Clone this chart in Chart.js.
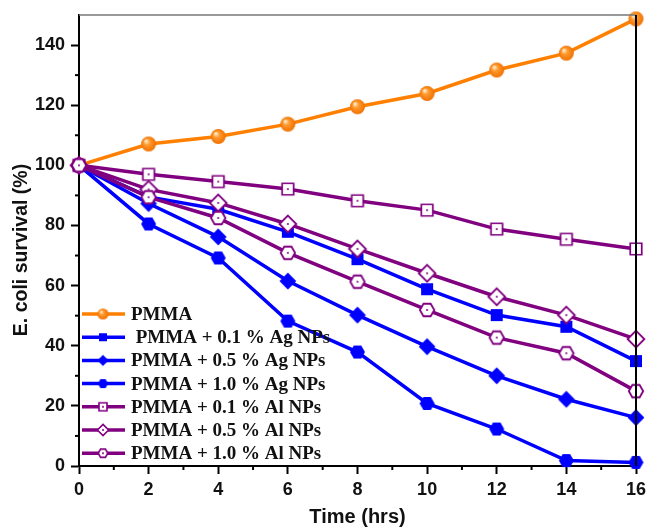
<!DOCTYPE html>
<html><head>
<meta charset="utf-8">
<script src="https://cdn.jsdelivr.net/npm/chart.js@4.4.1/dist/chart.umd.min.js"></script>
<style>html,body{margin:0;padding:0;background:#fff}#c{display:block}</style>
</head><body>
<canvas id="c" width="649" height="527"></canvas>
<script>
// ---- data ----
const times = [0, 2, 4, 6, 8, 10, 12, 14, 16];
const pmma  = [100, 107.1, 109.6, 113.7, 119.5, 123.9, 131.7, 137.3, 148.7];
const ag01  = [100, 89.5, 85.4, 77.9, 68.8, 58.8, 50.2, 46.3, 34.9];
const ag05  = [100, 87.3, 76.2, 61.5, 50.2, 39.7, 30.0, 22.2, 16.1];
const ag10  = [100, 80.5, 69.2, 48.2, 37.9, 20.8, 12.3, 1.8, 1.2];
const al01  = [100, 97.0, 94.6, 92.1, 88.2, 85.1, 78.8, 75.4, 72.2];
const al05  = [100, 92.0, 87.5, 80.5, 72.2, 64.1, 56.3, 50.2, 42.2];
const al10  = [100, 89.4, 82.5, 70.9, 61.3, 51.9, 42.7, 37.5, 24.9];
const seriesNames = ['PMMA', ' PMMA + 0.1 % Ag NPs', 'PMMA + 0.5 % Ag NPs', 'PMMA + 1.0 % Ag NPs',
                     'PMMA + 0.1 % Al NPs', 'PMMA + 0.5 % Al NPs', 'PMMA + 1.0 % Al NPs'];
const xTicks = [0, 2, 4, 6, 8, 10, 12, 14, 16];
const yTicks = [0, 20, 40, 60, 80, 100, 120, 140];
const xTitle = 'Time (hrs)';
const yTitle = 'E. coli survival (%)';

const ORANGE = '#FF8000', BLUE = '#0000FF', PURPLE = '#800080';
const SANS = '"Liberation Sans", Arial, sans-serif';

// ---- marker images ----
function shapePath(ctx, kind, c, s) {
  ctx.beginPath();
  if (kind === 'square') { ctx.rect(c - s/2, c - s/2, s, s); }
  else if (kind === 'diamond') { const r = s*0.7; ctx.moveTo(c, c-r); ctx.lineTo(c+r, c); ctx.lineTo(c, c+r); ctx.lineTo(c-r, c); ctx.closePath(); }
  else if (kind === 'hex') { const r = s*0.6; for (let i=0;i<6;i++){ const a = Math.PI/3*i; const px=c+r*Math.cos(a), py=c+r*Math.sin(a); i?ctx.lineTo(px,py):ctx.moveTo(px,py);} ctx.closePath(); }
  else { ctx.arc(c, c, s/2, 0, Math.PI*2); }
}
function marker(kind, color, s, filled) {
  const n = Math.ceil(s*1.5) + 4;
  const cv = document.createElement('canvas'); cv.width = n; cv.height = n;
  const ctx = cv.getContext('2d'); const c = n/2;
  if (kind === 'sphere') {
    const g = ctx.createRadialGradient(c - s*0.18, c - s*0.2, s*0.05, c, c, s/2);
    g.addColorStop(0, '#FFE9C8'); g.addColorStop(0.35, '#FF9A2E'); g.addColorStop(1, '#F07000');
    ctx.beginPath(); ctx.arc(c, c, s/2, 0, Math.PI*2); ctx.fillStyle = g; ctx.fill();
    return cv;
  }
  shapePath(ctx, kind, c, s);
  if (filled) { ctx.fillStyle = color; ctx.fill(); }
  else {
    ctx.fillStyle = '#fff'; ctx.fill();
    ctx.lineWidth = Math.max(1.6, s*0.15); ctx.strokeStyle = color; ctx.stroke();
    ctx.beginPath(); ctx.arc(c, c, Math.max(1, s*0.07), 0, Math.PI*2); ctx.fillStyle = color; ctx.fill();
  }
  return cv;
}
const specs = [
  ['sphere', ORANGE, 15, true, 11],
  ['square', BLUE, 12, true, 8],
  ['diamond', BLUE, 12, true, 8],
  ['hex', BLUE, 12.5, true, 8.5],
  ['square', PURPLE, 11.5, false, 8],
  ['diamond', PURPLE, 12, false, 8],
  ['hex', PURPLE, 12, false, 8],
];
const seriesValues = [pmma, ag01, ag05, ag10, al01, al05, al10];
const plotMarkers = specs.map(s => marker(s[0], s[1], s[2], s[3]));
const legendMarkers = specs.map(s => marker(s[0], s[1], s[4], s[3]));

const datasets = seriesValues.map((vals, i) => ({
  label: seriesNames[i],
  data: times.map((t, k) => ({x: t, y: vals[k]})),
  borderColor: specs[i][1],
  backgroundColor: specs[i][1],
  borderWidth: 3.5,
  pointStyle: plotMarkers[i],
  pointRadius: 7,
  pointHoverRadius: 7,
  tension: 0,
  clip: false,
  order: -i
}));

// ---- plugins ----
const framePlugin = {
  id: 'frame',
  afterDraw(chart) {
    const {ctx, chartArea: a, scales} = chart;
    ctx.save();
    ctx.strokeStyle = '#777'; ctx.lineWidth = 1.5;
    ctx.beginPath(); ctx.moveTo(a.left, a.top); ctx.lineTo(a.right, a.top); ctx.stroke();
    ctx.strokeStyle = '#000'; ctx.lineWidth = 2;
    ctx.beginPath(); ctx.moveTo(a.right, a.top); ctx.lineTo(a.right, a.bottom); ctx.stroke();
    // minor ticks
    ctx.lineWidth = 2;
    for (let v = 10; v < 150; v += 20) {
      const y = scales.y.getPixelForValue(v);
      ctx.beginPath(); ctx.moveTo(a.left - 4, y); ctx.lineTo(a.left, y); ctx.stroke();
    }
    for (let v = 1; v < 16; v += 2) {
      const x = scales.x.getPixelForValue(v);
      ctx.beginPath(); ctx.moveTo(x, a.bottom); ctx.lineTo(x, a.bottom + 4); ctx.stroke();
    }
    // y axis title
    ctx.save();
    ctx.translate(22, 250);
    ctx.rotate(-Math.PI / 2);
    ctx.font = 'bold 19.5px ' + SANS;
    ctx.fillStyle = '#111';
    ctx.textAlign = 'center'; ctx.textBaseline = 'middle';
    ctx.fillText(yTitle, 0, 0);
    ctx.restore();
    ctx.restore();
  }
};
const legendPlugin = {
  id: 'inlegend',
  afterDraw(chart) {
    const ctx = chart.ctx;
    ctx.save();
    ctx.font = 'bold 19px "Liberation Serif", "Times New Roman", serif';
    ctx.textBaseline = 'middle';
    seriesNames.forEach((name, i) => {
      const y = 314 + i * 23.2;
      ctx.strokeStyle = specs[i][1]; ctx.lineWidth = 3.5;
      ctx.beginPath(); ctx.moveTo(82, y); ctx.lineTo(125, y); ctx.stroke();
      const m = legendMarkers[i];
      ctx.drawImage(m, 103 - m.width/2, y - m.height/2);
      ctx.fillStyle = '#111';
      ctx.fillText(name, 131, y + 1);
    });
    ctx.restore();
  }
};
function zeroPad(s) { s.paddingLeft = 0; s.paddingRight = 0; s.paddingTop = 0; s.paddingBottom = 0; }

new Chart(document.getElementById('c'), {
  type: 'line',
  data: { datasets },
  options: {
    responsive: false,
    devicePixelRatio: 1,
    animation: false,
    layout: { padding: { left: 0, right: 13, top: 15, bottom: 0 } },
    plugins: { legend: { display: false }, tooltip: { enabled: false } },
    scales: {
      x: {
        type: 'linear', min: 0, max: 16,
        afterBuildTicks: s => { s.ticks = xTicks.map(v => ({value: v})); },
        afterFit: s => { s.height = 61; zeroPad(s); },
        ticks: { color: '#111', padding: 5, font: { family: SANS, size: 18, weight: 'bold' } },
        grid: { drawOnChartArea: false, tickLength: 8, tickWidth: 2, tickColor: '#000' },
        border: { color: '#000', width: 2 },
        title: { display: true, text: xTitle, color: '#111', padding: { top: 0, bottom: 0 },
                 font: { family: SANS, size: 20, weight: 'bold', lineHeight: 1 } }
      },
      y: {
        type: 'linear', min: 0, max: 150,
        afterBuildTicks: s => { s.ticks = yTicks.map(v => ({value: v})); },
        afterFit: s => { s.width = 79; zeroPad(s); },
        ticks: { color: '#111', padding: 6, font: { family: SANS, size: 18, weight: 'bold' } },
        grid: { drawOnChartArea: false, tickLength: 8, tickWidth: 2, tickColor: '#000' },
        border: { color: '#000', width: 2 },
        title: { display: false }
      }
    }
  },
  plugins: [framePlugin, legendPlugin]
});
</script>
</body></html>
